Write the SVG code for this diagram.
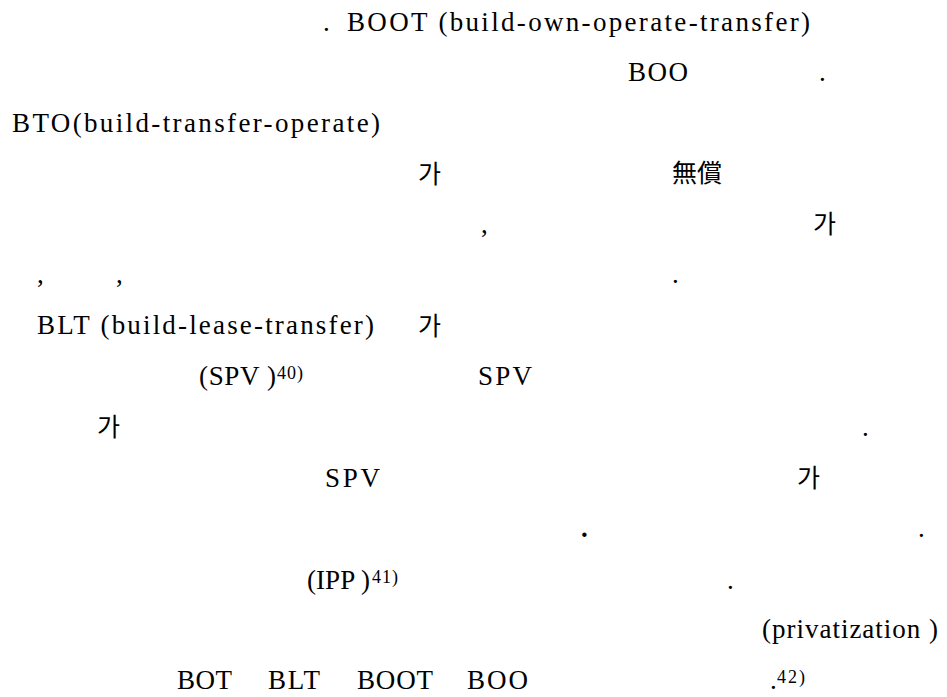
<svg xmlns="http://www.w3.org/2000/svg" width="947" height="697" viewBox="0 0 947 697">
<style>
.s{font-family:"Liberation Serif","Times New Roman",serif;font-size:27px;fill:#000}
.sup{font-family:"Liberation Serif","Times New Roman",serif;font-size:18px;fill:#000}
.k{font-family:"Noto Sans CJK KR","Noto Sans",sans-serif;font-size:25px;fill:#000}
.b{font-family:"Liberation Serif","Times New Roman",serif;font-size:27px;font-weight:bold;fill:#000}
</style>
<rect width="947" height="697" fill="#fff"/>
<g id="line1">
<text class="s" x="323" y="31">.</text>
<text class="s" x="347" y="31" textLength="463" lengthAdjust="spacing">BOOT (build-own-operate-transfer)</text>
</g>
<g id="line2">
<text class="s" x="628" y="81" textLength="60" lengthAdjust="spacing">BOO</text>
<text class="s" x="819" y="81">.</text>
</g>
<g id="line3">
<text class="s" x="12" y="132" textLength="368" lengthAdjust="spacing">BTO(build-transfer-operate)</text>
</g>
<g id="line4">
<text class="k" x="418" y="183">가</text>
<text class="k" x="672" y="182">無償</text>
</g>
<g id="line5">
<text class="s" x="481" y="233">,</text>
<text class="k" x="813" y="233">가</text>
</g>
<g id="line6">
<text class="s" x="37" y="283">,</text>
<text class="s" x="116" y="283">,</text>
<text class="s" x="672" y="283">.</text>
</g>
<g id="line7">
<text class="s" x="37" y="334" textLength="337" lengthAdjust="spacing">BLT (build-lease-transfer)</text>
<text class="k" x="418" y="335">가</text>
</g>
<g id="line8">
<text class="s" x="199" y="385" textLength="77" lengthAdjust="spacing">(SPV )</text>
<text class="sup" x="277" y="379" textLength="26" lengthAdjust="spacing">40)</text>
<text class="s" x="478" y="385" textLength="54" lengthAdjust="spacing">SPV</text>
</g>
<g id="line9">
<text class="k" x="97" y="436">가</text>
<text class="s" x="862" y="436">.</text>
</g>
<g id="line10">
<text class="s" x="325" y="487" textLength="55" lengthAdjust="spacing">SPV</text>
<text class="k" x="797" y="487">가</text>
</g>
<g id="line11">
<text class="b" x="581" y="537">.</text>
<text class="s" x="918" y="537">.</text>
</g>
<g id="line12">
<text class="s" x="307" y="589" textLength="63" lengthAdjust="spacing">(IPP )</text>
<text class="sup" x="372" y="583" textLength="26" lengthAdjust="spacing">41)</text>
<text class="s" x="727" y="589">.</text>
</g>
<g id="line13">
<text class="s" x="762" y="638" textLength="176" lengthAdjust="spacing">(privatization )</text>
</g>
<g id="line14">
<text class="s" x="177" y="689" textLength="55" lengthAdjust="spacing">BOT</text>
<text class="s" x="268" y="689" textLength="52" lengthAdjust="spacing">BLT</text>
<text class="s" x="357" y="689" textLength="76" lengthAdjust="spacing">BOOT</text>
<text class="s" x="467" y="689" textLength="61" lengthAdjust="spacing">BOO</text>
<text class="s" x="770" y="689">.</text>
<text class="sup" x="777" y="683" textLength="28" lengthAdjust="spacing">42)</text>
</g>
</svg>
